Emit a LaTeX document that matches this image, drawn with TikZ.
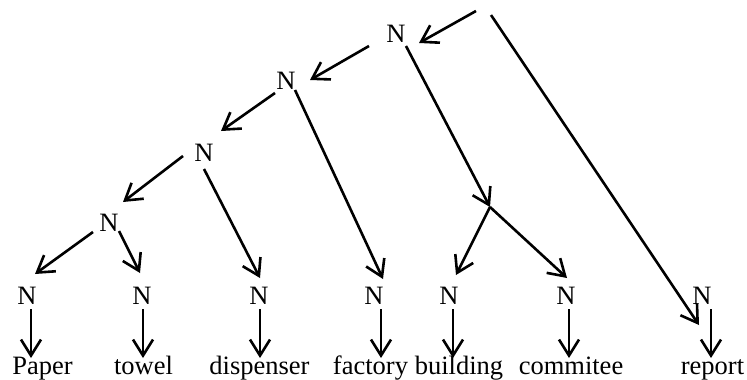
\documentclass[tikz,border=0pt]{standalone}
\usepackage{fontspec}
\setmainfont{Liberation Serif}
\usetikzlibrary{arrows.meta}

\tikzset{
  lab/.style={inner sep=0pt, font=\fontsize{26.5}{30}\selectfont},
  word/.style={lab, anchor=base},
  arr/.style={line width=2.6pt, -{Straight Barb[length=16pt,width=20pt,line width=2.6pt]}}
}

% connector between two named points, each with an offset from its anchor
\newcommand\linkto[4]{\draw[arr] ([shift={#2}]#1) -- ([shift={#4}]#3);}

\begin{document}
\begin{tikzpicture}[x=1pt,y=-1pt]
  \useasboundingbox (0,0) rectangle (747,380);

  % inner N nodes
  \node[lab] (n1) at (396,34)    {N};
  \node[lab] (n2) at (286,80.5)  {N};
  \node[lab] (n3) at (204,152.5) {N};
  \node[lab] (n4) at (109,223)   {N};

  % leaf N nodes
  \node[lab] (l1) at (27,296)  {N};
  \node[lab] (l2) at (142,296) {N};
  \node[lab] (l3) at (259,296) {N};
  \node[lab] (l4) at (374,296) {N};
  \node[lab] (l5) at (449,296) {N};
  \node[lab] (l6) at (566,296) {N};
  \node[lab] (l7) at (702,296) {N};

  % words
  \node[word] (w1) at (42.5,374)  {Paper};
  \node[word] (w2) at (143.5,374) {towel};
  \node[word] (w3) at (259.5,374) {dispenser};
  \node[word] (w4) at (370.5,374) {factory};
  \node[word] (w5) at (459,374)   {building};
  \node[word] (w6) at (571,374)   {commitee};
  \node[word] (w7) at (712.5,374) {report};

  % top of the tree and the branching point
  \coordinate (r) at (483,12);
  \coordinate (b) at (490,207);

  % tree edges
  \linkto{r}{(-7,-1)}{n1.center}{(23,9)}
  \linkto{r}{(8,3)}{l7.center}{(-3,29)}
  \linkto{n1.center}{(-27,12)}{n2.center}{(24,-0.5)}
  \linkto{n1.center}{(10,12)}{b}{(0,0)}
  \linkto{b}{(0,0)}{l5.center}{(7,-21)}
  \linkto{b}{(0,0)}{l6.center}{(1,-18)}
  \linkto{n2.center}{(-11,12.5)}{n3.center}{(17,-21.5)}
  \linkto{n2.center}{(9,9.5)}{l4.center}{(9,-17)}
  \linkto{n3.center}{(-21,3.5)}{n4.center}{(14,-21)}
  \linkto{n3.center}{(0,16.5)}{l3.center}{(1,-18)}
  \linkto{n4.center}{(-16,9)}{l1.center}{(8,-22)}
  \linkto{n4.center}{(10,8)}{l2.center}{(-2,-23)}

  % leaf N to word
  \linkto{l1.center}{(4,13)}{w1.base}{(-11.5,-16)}
  \linkto{l2.center}{(1,13)}{w2.base}{(-0.5,-16)}
  \linkto{l3.center}{(1,13)}{w3.base}{(0.5,-16)}
  \linkto{l4.center}{(7,13)}{w4.base}{(10.5,-16)}
  \linkto{l5.center}{(4,13)}{w5.base}{(-6,-16)}
  \linkto{l6.center}{(3,13)}{w6.base}{(-2,-16)}
  \linkto{l7.center}{(9,13)}{w7.base}{(-1.5,-16)}
\end{tikzpicture}
\end{document}
